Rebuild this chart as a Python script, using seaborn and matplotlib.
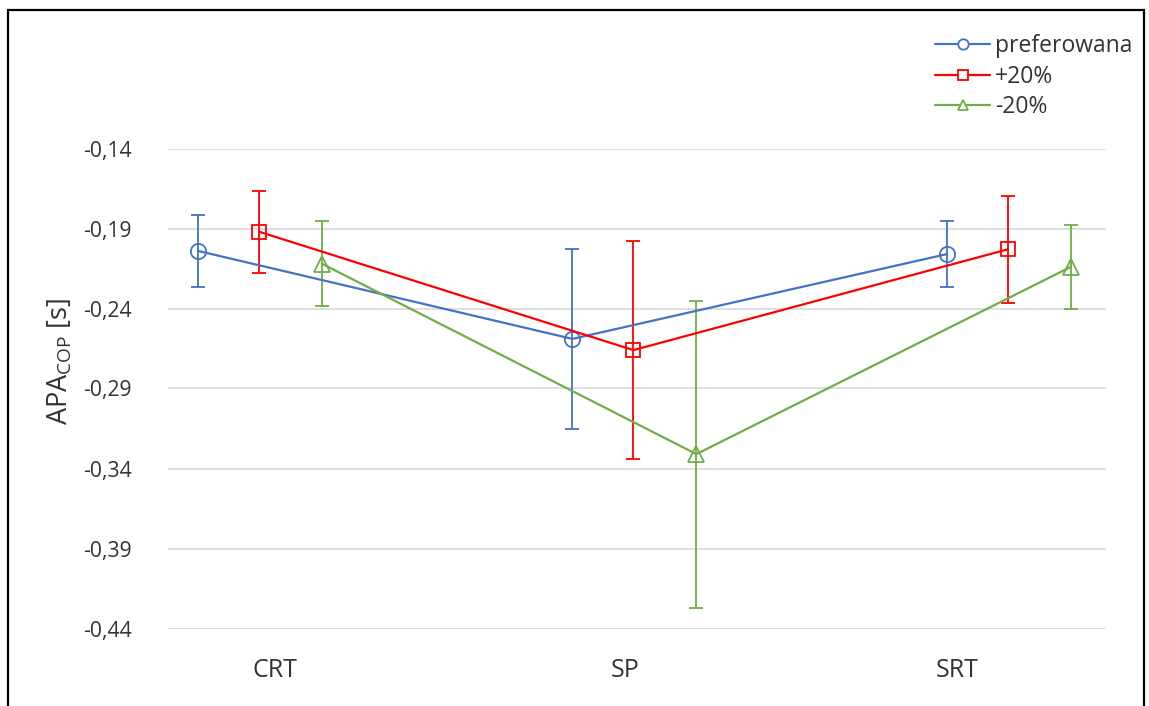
import numpy as np
import pandas as pd
import matplotlib
matplotlib.use("Agg")
import matplotlib.pyplot as plt
from matplotlib.patches import Rectangle
from matplotlib.lines import Line2D
from matplotlib.ticker import FixedLocator, FuncFormatter
import seaborn as sns

# Test conditions and mean APA_COP times with their error half-widths [s]
categories = ["CRT", "SP", "SRT"]
series_names = ["preferowana", "+20%", "-20%"]
preferowana = [-0.204, -0.259, -0.206]
preferowana_err = [0.0225, 0.056, 0.0205]
plus20 = [-0.192, -0.266, -0.203]
plus20_err = [0.0255, 0.068, 0.0335]
minus20 = [-0.212, -0.331, -0.214]
minus20_err = [0.0265, 0.096, 0.026]
y_ticks = [-0.44, -0.39, -0.34, -0.29, -0.24, -0.19, -0.14]

sns.set_theme(style="white")
plt.rcParams["font.family"] = ["Open Sans", "DejaVu Sans"]

text_color = "#333333"
colors = {"preferowana": "#4472C4", "+20%": "#FF0000", "-20%": "#70AD47"}
markers = {"preferowana": "o", "+20%": "s", "-20%": "^"}
msize = {"preferowana": 11, "+20%": 10, "-20%": 11}
offsets = {"preferowana": -0.163, "+20%": 0.0, "-20%": 0.168}

values = {"preferowana": preferowana, "+20%": plus20, "-20%": minus20}
errors = {"preferowana": preferowana_err, "+20%": plus20_err, "-20%": minus20_err}

rows = []
for name in series_names:
    for i, cat in enumerate(categories):
        rows.append({"series": name, "category": cat,
                     "x": i + offsets[name], "value": values[name][i],
                     "err": errors[name][i]})
df = pd.DataFrame(rows)

fig = plt.figure(figsize=(11.49, 7.06), dpi=100)
ax = fig.add_axes([168 / 1149, 1 - 628.5 / 706, 938 / 1149, 480 / 706])

# horizontal gridlines
for t in y_ticks:
    ax.axhline(t, color="#D9D9D9", lw=1.2, zorder=0)

for name in series_names:
    sub = df[df["series"] == name]
    ax.errorbar(sub["x"], sub["value"], yerr=sub["err"], fmt="none",
                ecolor=colors[name], elinewidth=1.3, capsize=5, capthick=1.3,
                zorder=2)
    sns.lineplot(data=sub, x="x", y="value", ax=ax, color=colors[name],
                 marker=markers[name], markersize=msize[name],
                 markerfacecolor="none", markeredgecolor=colors[name],
                 markeredgewidth=1.3, linewidth=1.6, label=name,
                 zorder=3, legend=False, sort=False)

ax.set_xlim(-0.243, 2.262)
ax.set_ylim(-0.44, -0.14)
ax.yaxis.set_major_locator(FixedLocator(y_ticks))
ax.yaxis.set_major_formatter(FuncFormatter(lambda v, p: f"{v:.2f}".replace(".", ",")))
ax.set_xticks([0.043, 0.977, 1.864])
ax.set_xticklabels(categories)
ax.tick_params(axis="y", length=0, pad=26, labelsize=15.2, labelcolor=text_color)
ax.tick_params(axis="x", length=0, pad=21, labelsize=18, labelcolor=text_color)
ax.set_xlabel("")
ax.set_ylabel("")
for s in ax.spines.values():
    s.set_visible(False)

fig.text(60 / 1149, 1 - 361 / 706, r"APA$_\mathregular{COP}$ [s]", rotation=90,
         ha="center", va="center", fontsize=19.5, color=text_color)

# legend
handles = [Line2D([0], [0], color=colors[n], marker=markers[n], markersize=7.5,
                  markerfacecolor="white", markeredgecolor=colors[n],
                  markeredgewidth=1.3, lw=1.6) for n in series_names]
fig.legend(handles, series_names, loc="upper left",
           bbox_to_anchor=(935 / 1149, 1 - 34 / 706), frameon=False,
           fontsize=16.5, handlelength=2.4, handletextpad=0.22,
           labelspacing=0.29, borderpad=0, borderaxespad=0,
           labelcolor=text_color)

# chart border
fig.patches.append(Rectangle((8 / 1149, -0.1), (1144 - 8) / 1149, 1.1 - 10 / 706,
                             transform=fig.transFigure, fill=False,
                             edgecolor="black", lw=1.6))

fig.savefig("out.png", dpi=100)
